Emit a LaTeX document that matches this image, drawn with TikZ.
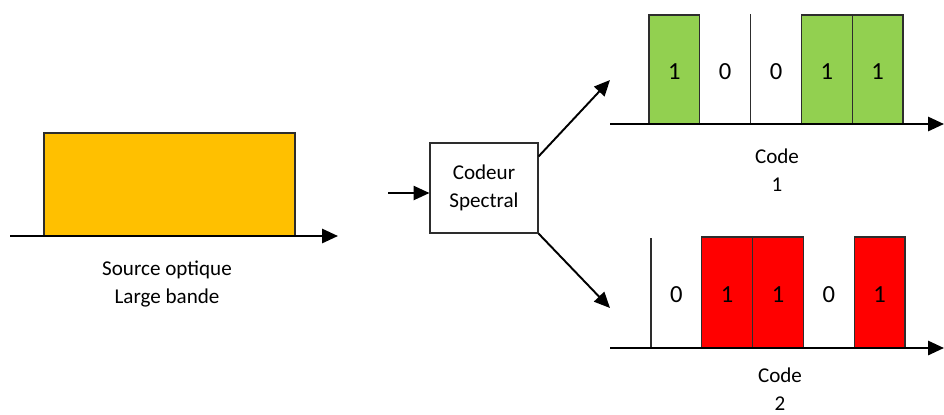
\documentclass[tikz,border=0pt]{standalone}
\usepackage{fontspec}
\setmainfont{Carlito}
\usepackage{xcolor}
\usepackage{tikz}
\definecolor{srcyellow}{RGB}{255, 192, 0}
\definecolor{bitgreen}{RGB}{146, 208, 80}
\definecolor{bitred}{RGB}{255, 0, 0}
\definecolor{edgegray}{RGB}{45, 45, 45}
\usetikzlibrary{arrows.meta, positioning, calc}

\tikzset{
    axis/.style={line width=1.3pt, -{Triangle[length=9pt, width=8pt]}},
    flow/.style={line width=1.1pt, -{Triangle[length=9pt, width=8pt]}},
    bitedge/.style={draw=edgegray, line width=0.6pt},
    bitlabel/.style={font=\fontsize{14}{15}\selectfont, inner sep=0pt},
    caption/.style={font=\fontsize{12}{15.9}\selectfont, align=center, inner sep=0pt}
}

\begin{document}
\begin{tikzpicture}[x=0.02cm, y=-0.02cm]
        \useasboundingbox (0,0) rectangle (944,414);

        % source large bande
        \filldraw[bitedge, fill=srcyellow] (44,236) rectangle (295,133);
        \draw[axis] (10,236) -- (338,236);
        \node[caption] (srclabel) at (167,284) {Source optique\\Large bande};

        % codeur
        \node[draw=edgegray, line width=0.6pt, minimum width=108*0.02cm, minimum height=90*0.02cm,
              font=\fontsize{12}{15.9}\selectfont, align=center, inner sep=0pt] (coder) at (484,188) {Codeur\\Spectral};
        \coordinate (in) at (388,193);
        \coordinate (up) at (610,80);
        \coordinate (down) at (610,308);
        \draw[flow] (in) -- (in -| coder.west);
        \draw[flow] ($(coder.north east)+(0,14)$) -- (up);
        \draw[flow] (coder.south east) -- (down);

        % code 1
        \foreach \b [count=\i from 0] in {1,0,0,1,1} {
            \pgfmathsetmacro\xl{649+50.8*\i}
            \ifnum\b=1
                \filldraw[bitedge, fill=bitgreen] (\xl,124) rectangle ++(50.8,-109);
            \else
                \draw[bitedge] (\xl,124) -- ++(0,-110);
            \fi
            \node[bitlabel] (cA\i) at (\xl+25.4,72) {\b};
        }
        \draw[axis] (610,124) -- (944,124);
        \node[caption] (codeA) at (777,170) {Code\\1};

        % code 2
        \foreach \b [count=\i from 0] in {0,1,1,0,1} {
            \pgfmathsetmacro\xl{651+50.8*\i}
            \ifnum\b=1
                \filldraw[bitedge, fill=bitred] (\xl,348) rectangle ++(50.8,-111);
            \else
                \draw[bitedge] (\xl,348) -- ++(0,-110);
            \fi
            \node[bitlabel] (cB\i) at (\xl+25.4,295) {\b};
        }
        \draw[axis] (610,348) -- (944,348);
        \node[caption] (codeB) at (780,389) {Code\\2};
    \end{tikzpicture}
\end{document}
